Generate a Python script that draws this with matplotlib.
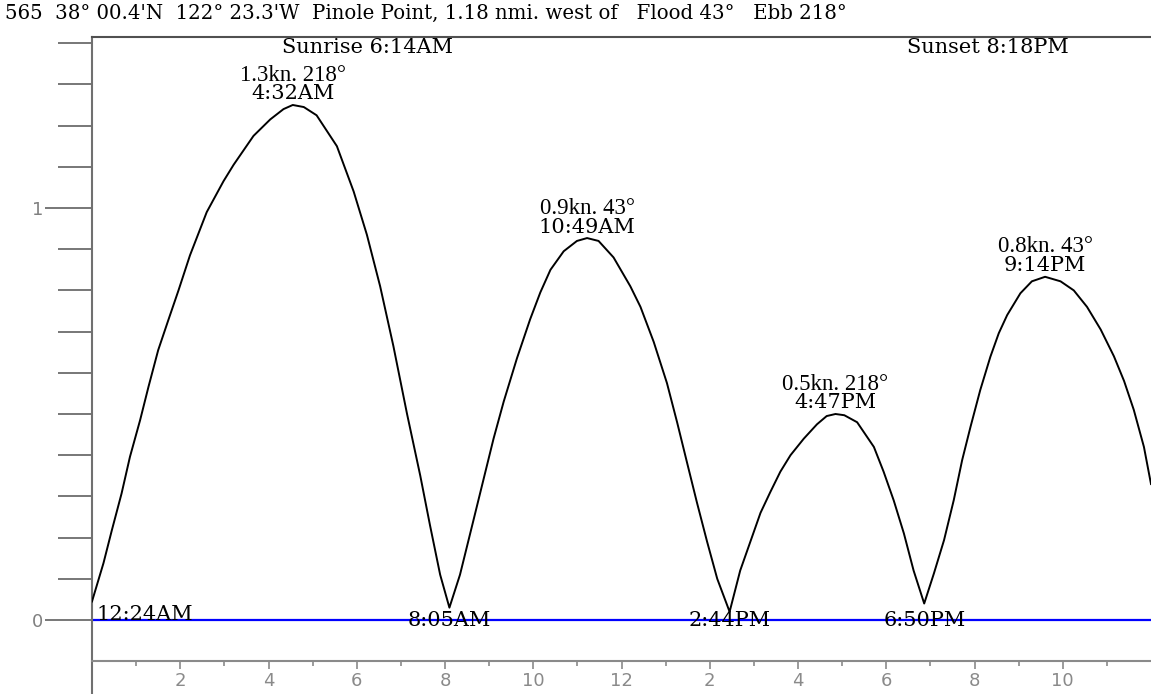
import numpy as np
import matplotlib
matplotlib.use("Agg")
import matplotlib.pyplot as plt
from matplotlib.ticker import FixedLocator

# ---- data ----
hours = [0.00, 0.26, 0.45, 0.67, 0.86, 1.09, 1.28, 1.50, 1.73, 1.96, 2.22, 2.60, 2.98,
         3.21, 3.66, 4.04, 4.34, 4.55, 4.80, 5.09, 5.55, 5.93, 6.23, 6.53, 6.83, 7.14,
         7.44, 7.66, 7.89, 8.10,
         8.34, 8.64, 8.87, 9.10, 9.33, 9.63, 9.93, 10.16, 10.39, 10.69, 10.99, 11.22,
         11.48, 11.82, 12.20, 12.43, 12.73, 13.03, 13.26, 13.49, 13.71, 13.94, 14.17, 14.45,
         14.69, 14.92, 15.15, 15.37, 15.60, 15.83, 16.13, 16.43, 16.65, 16.85, 17.05, 17.34,
         17.72, 17.94, 18.17, 18.40, 18.62, 18.86,
         19.08, 19.31, 19.53, 19.72, 19.91, 20.13, 20.36, 20.55, 20.74, 21.04, 21.30, 21.60,
         21.95, 22.25, 22.55, 22.86, 23.16, 23.39, 23.61, 23.84, 24.00]
speed = [0.045, 0.138, 0.218, 0.307, 0.396, 0.485, 0.566, 0.655, 0.728, 0.800, 0.885, 0.990, 1.065,
         1.105, 1.175, 1.215, 1.240, 1.250, 1.245, 1.225, 1.150, 1.040, 0.935, 0.810, 0.665, 0.500,
         0.350, 0.230, 0.110, 0.030,
         0.110, 0.240, 0.340, 0.440, 0.530, 0.635, 0.730, 0.795, 0.850, 0.895, 0.920, 0.927,
         0.920, 0.880, 0.810, 0.760, 0.675, 0.575, 0.480, 0.380, 0.285, 0.190, 0.100, 0.020,
         0.120, 0.190, 0.260, 0.310, 0.360, 0.400, 0.440, 0.475, 0.495, 0.500, 0.497, 0.480,
         0.420, 0.360, 0.290, 0.210, 0.120, 0.040,
         0.113, 0.194, 0.291, 0.388, 0.469, 0.558, 0.639, 0.696, 0.740, 0.793, 0.822, 0.833,
         0.822, 0.800, 0.760, 0.705, 0.640, 0.580, 0.510, 0.420, 0.330]

peak_speed_labels = ["1.3kn. 218°", "0.9kn. 43°", "0.5kn. 218°", "0.8kn. 43°"]
peak_time_labels = ["4:32AM", "10:49AM", "4:47PM", "9:14PM"]
slack_labels = ["12:24AM", "8:05AM", "2:44PM", "6:50PM"]
sun_times = [6.233, 20.30]
sun_labels = ["Sunrise 6:14AM", "Sunset 8:18PM"]
x_major = [2, 4, 6, 8, 10, 12, 14, 16, 18, 20, 22]
x_major_labels = ["2", "4", "6", "8", "10", "12", "2", "4", "6", "8", "10"]
x_minor = [1, 3, 5, 7, 9, 11, 13, 15, 17, 19, 21, 23]
y_major = [0, 1]
y_minor = [0.1, 0.2, 0.3, 0.4, 0.5, 0.6, 0.7, 0.8, 0.9, 1.1, 1.2, 1.3, 1.4]
title = "565  38° 00.4'N  122° 23.3'W  Pinole Point, 1.18 nmi. west of   Flood 43°   Ebb 218°"

# ---- figure ----
W, H = 1151, 694
fig = plt.figure(figsize=(W / 100, H / 100), dpi=100)
fig.patch.set_facecolor("white")
ax = fig.add_axes([92 / W, 0, 1 - 92 / W, 1 - 37 / H])
ax.set_xlim(0, 24)
ax.set_ylim(-0.1796, 1.415)

serif = "DejaVu Serif"
serif_narrow = ["Liberation Serif", "DejaVu Serif"]
fs_title = 14.2
fs_time = 15.0
fs_speed = 16.5

ax.spines["right"].set_visible(False)
ax.spines["bottom"].set_position(("data", -0.1))
ax.spines["bottom"].set_color("#8a8a8a")
ax.spines["bottom"].set_linewidth(1.5)
ax.spines["left"].set_color("#707070")
ax.spines["left"].set_linewidth(1.5)
ax.spines["top"].set_color("#505050")
ax.spines["top"].set_linewidth(1.5)

ax.xaxis.set_major_locator(FixedLocator(x_major))
ax.xaxis.set_minor_locator(FixedLocator(x_minor))
ax.set_xticklabels(x_major_labels)
ax.tick_params(axis="x", which="major", direction="out", length=6, width=1.2,
               color="#8a8a8a", labelcolor="#8a8a8a", labelsize=13, pad=2)
ax.tick_params(axis="x", which="minor", direction="out", length=3.6, width=1.2,
               color="#8a8a8a")

ax.yaxis.set_major_locator(FixedLocator(y_major))
ax.yaxis.set_minor_locator(FixedLocator(y_minor))
ax.set_yticklabels([str(v) for v in y_major])
ax.tick_params(axis="y", which="major", direction="out", length=34, width=1.2,
               color="#606060", labelcolor="#808080", labelsize=13, pad=1)
ax.tick_params(axis="y", which="minor", direction="out", length=24.5, width=1.2,
               color="#606060")

# zero line
ax.axhline(0, color="#0000ff", lw=1.6, zorder=2)

# current curve
x = np.array(hours)
y = np.array(speed)
ax.plot(x, y, color="black", lw=1.4, zorder=3)

# peak labels at local maxima
peaks = [i for i in range(1, len(y) - 1) if y[i] > y[i - 1] and y[i] >= y[i + 1]]
for k, i in enumerate(peaks):
    ax.annotate(peak_time_labels[k], (x[i], y[i]), xytext=(0, 4), textcoords="offset points",
                ha="center", va="baseline", fontsize=fs_time, family=serif, zorder=4)
    ax.annotate(peak_speed_labels[k], (x[i], y[i]), xytext=(0, 17.5), textcoords="offset points",
                ha="center", va="baseline", fontsize=fs_speed, family=serif_narrow, zorder=4)

# slack labels at local minima (first point counts as the first slack)
mins = [0] + [i for i in range(1, len(y) - 1) if y[i] < y[i - 1] and y[i] <= y[i + 1]]
for k, i in enumerate(mins):
    if k == 0:
        ax.annotate(slack_labels[k], (x[i], 0), xytext=(3.5, 0), textcoords="offset points",
                    ha="left", va="baseline", fontsize=fs_time, family=serif, zorder=4)
    else:
        ax.annotate(slack_labels[k], (x[i], 0), xytext=(0, -0.5), textcoords="offset points",
                    ha="center", va="center", fontsize=fs_time, family=serif, zorder=4)

# sunrise / sunset
for t, lab in zip(sun_times, sun_labels):
    ax.text(t, 1.39, lab, ha="center", va="center", fontsize=fs_time, family=serif)

# title
fig.text(5 / W, 1 - 13 / H, title, ha="left", va="center", fontsize=fs_title, family=serif)

fig.savefig("out.png", dpi=100, facecolor="white")
